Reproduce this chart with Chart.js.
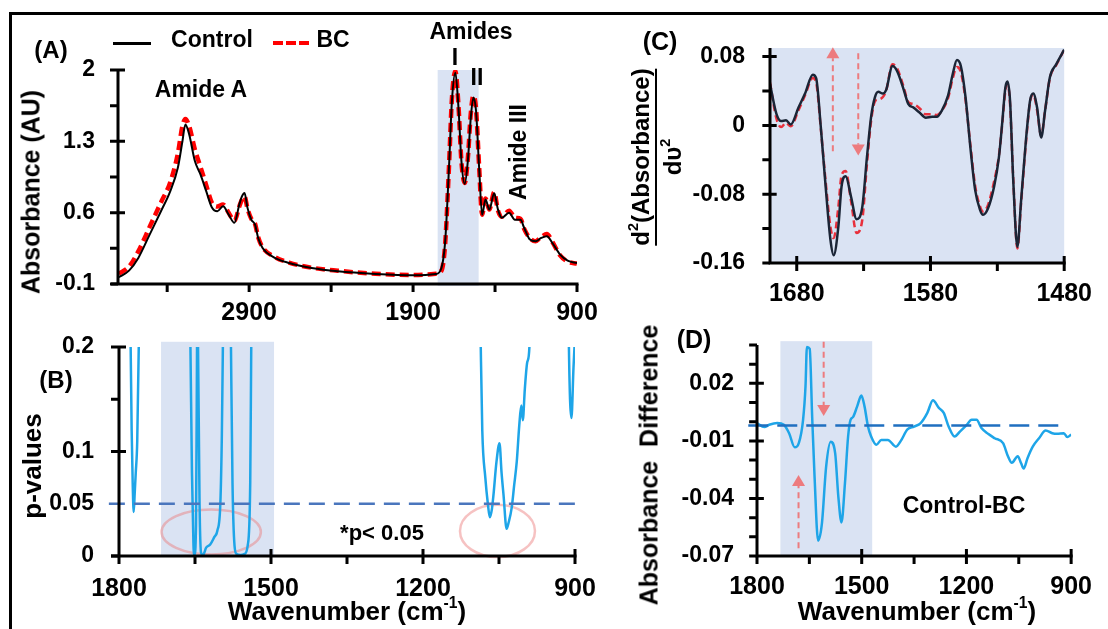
<!DOCTYPE html>
<html><head><meta charset="utf-8">
<script src="https://cdn.jsdelivr.net/npm/chart.js@4.4.0/dist/chart.umd.min.js"></script>
<style>
html,body{margin:0;padding:0;background:#fff;}
#wrap{position:relative;width:1108px;height:629px;overflow:hidden;background:#fff;font-family:"Liberation Sans",Arial,sans-serif;font-weight:bold;color:#000;}
canvas{position:absolute;left:0;top:0;}
.t{position:absolute;white-space:nowrap;transform:translate(-50%,-50%);line-height:1;}
.r{transform:translate(-50%,-50%) rotate(-90deg);}
#frame{position:absolute;left:9px;top:12px;width:1200px;height:700px;border-top:3px solid #000;border-left:3px solid #000;}
sup{font-size:0.6em;vertical-align:0.75em;line-height:0;}
.sw{position:absolute;}
</style></head>
<body><div id="wrap">
<div id="frame"></div>
<canvas id="cA" width="1108" height="629"></canvas>
<canvas id="cB" width="1108" height="629"></canvas>
<canvas id="cC" width="1108" height="629"></canvas>
<canvas id="cD" width="1108" height="629"></canvas>
<div class="sw" style="left:113px;top:41.5px;width:38px;height:3px;background:#000;"></div>
<div class="sw" style="left:273px;top:41px;width:38px;height:4px;background:repeating-linear-gradient(to right,#ff0000 0 10px,rgba(255,0,0,0) 10px 13px);"></div>
<div id="labels"></div>
</div>
<script>
// ---------- Panel A: absorbance spectra ----------
const aWavenumber = [3695,3633,3576,3507,3438,3381,3335,3307,3289,3266,3231,3197,3162,3128,3094,3059,3025,2990,2960,2944,2928,2910,2887,2864,2845,2818,2749,2657,2519,2359,2129,1899,1761,1727,1704,1681,1663,1642,1623,1605,1585,1566,1548,1532,1516,1497,1479,1458,1435,1405,1382,1359,1314,1279,1245,1222,1187,1153,1118,1084,1049,1003,957,900];
const aControl = [-0.034,0.031,0.156,0.385,0.614,0.811,1.04,1.30,1.466,1.37,1.106,0.975,0.811,0.654,0.614,0.663,0.581,0.50,0.68,0.76,0.794,0.647,0.532,0.483,0.352,0.254,0.162,0.106,0.057,0.024,-0.002,-0.015,-0.002,0.057,0.32,1.04,1.695,1.974,1.63,1.106,0.883,1.106,1.53,1.73,1.60,1.04,0.58,0.73,0.63,0.79,0.63,0.55,0.60,0.53,0.53,0.45,0.336,0.32,0.352,0.368,0.30,0.188,0.129,0.106];
const aBC = [0.0,0.07,0.22,0.46,0.70,0.90,1.18,1.45,1.52,1.45,1.22,1.05,0.87,0.70,0.66,0.68,0.60,0.52,0.66,0.73,0.76,0.64,0.54,0.49,0.36,0.26,0.17,0.11,0.06,0.03,0.0,-0.012,0.0,0.03,0.30,1.05,1.72,1.99,1.65,1.10,0.89,1.13,1.57,1.75,1.62,1.05,0.58,0.74,0.63,0.80,0.62,0.56,0.62,0.55,0.54,0.44,0.35,0.32,0.36,0.39,0.31,0.18,0.12,0.10];
const aXLabels = [2900,1900,900];
const aXMarks = [3400,2900,2400,1900,1400,900];
const aXCross = [];
const aYLabels = [2,1.3,0.6,-0.1];
const aYMarks = [2,1.65,1.3,0.95,0.6,0.25,-0.1];
const aYCross = [2,1.3,0.6];

// ---------- Panel B: p-values ----------
const bWavenumber = [1779,1777,1775,1773,1771,1769,1767,1764,1761,1759,1700,1662,1659,1656,1653,1651,1648,1646,1645,1644,1641,1638,1634,1628,1620,1612,1606,1600,1597,1595,1593,1588,1581,1579,1576,1572,1568,1560,1552,1546,1541,1539,1537,1300,1089,1086,1083,1077,1072,1068,1064,1061,1055,1049,1045,1041,1035,1031,1025,1020,1015,1010,1006,1003,999,994,990,988,950,914,912,907,903,900];
const bPValue = [0.3,0.2,0.12,0.07,0.042,0.06,0.079,0.11,0.2,0.3,null,0.3,0.2,0.08,0.01,0.001,0.03,0.2,0.3,0.2,0.05,0.003,0.001,0.008,0.011,0.018,0.024,0.05,0.116,0.2,0.3,null,0.3,0.2,0.07,0.01,0.002,0.001,0.002,0.01,0.07,0.2,0.3,null,0.3,0.2,0.12,0.075,0.05,0.037,0.045,0.058,0.09,0.108,0.08,0.058,0.026,0.032,0.046,0.068,0.09,0.125,0.144,0.13,0.16,0.186,0.2,0.3,null,0.3,0.2,0.132,0.18,0.21];
const bThreshold = 0.05;
const bXLabels = [1800,1500,1200,900];
const bXMarks = [1800,1650,1500,1350,1200,1050,900];
const bXCross = [1500,1200,900];
const bYLabels = [0.2,0.1,0.05,0];
const bYMarks = [0.2,0.15,0.1,0];
const bYCross = [0.2,0.1];

// ---------- Panel C: second derivative ----------
const cWavenumber = [1700,1695.2,1691.7,1688,1684.5,1678.6,1673.8,1668,1665.5,1662,1658.4,1654.8,1652.4,1648.9,1646.5,1643.4,1639.4,1635.3,1631,1627.5,1624.4,1621.5,1619,1615.6,1613.2,1608.4,1604.9,1600.1,1596.6,1593,1588.2,1583.5,1578.7,1575.2,1571.6,1566.8,1563.3,1560.2,1557.3,1553.8,1550.2,1546.6,1543,1540.7,1537.1,1532.4,1528.8,1526.4,1524,1522.4,1520.5,1518.1,1515,1512.2,1508.6,1505.5,1503.1,1500.3,1497.2,1494.3,1490.7,1486,1480];
const cControl = [0.048,0.0135,0.005,0.006,0.001,0.021,0.037,0.059,0.055,-0.002,-0.071,-0.133,-0.151,-0.118,-0.071,-0.059,-0.083,-0.109,-0.095,-0.037,0.010,0.033,0.039,0.037,0.041,0.069,0.063,0.042,0.025,0.021,0.015,0.009,0.010,0.010,0.017,0.035,0.060,0.076,0.069,0.033,-0.025,-0.075,-0.098,-0.104,-0.097,-0.071,-0.037,0.002,0.044,0.051,0.029,-0.064,-0.141,-0.087,-0.017,0.029,0.037,0.021,-0.014,0.017,0.056,0.071,0.088];
const cBC = [0.050,0.008,-0.002,0.003,-0.001,0.018,0.035,0.055,0.050,-0.004,-0.065,-0.118,-0.131,-0.095,-0.058,-0.053,-0.088,-0.125,-0.110,-0.045,0.005,0.028,0.030,0.033,0.040,0.071,0.066,0.045,0.027,0.025,0.020,0.013,0.013,0.012,0.017,0.032,0.055,0.068,0.062,0.030,-0.022,-0.070,-0.094,-0.100,-0.093,-0.065,-0.035,0.000,0.040,0.048,0.025,-0.062,-0.143,-0.090,-0.020,0.027,0.036,0.018,-0.012,0.017,0.055,0.070,0.088];
const cXLabels = [1680,1580,1480];
const cXMarks = [1680,1630,1580,1530,1480];
const cXCross = [1680,1580,1480];
const cYLabels = [0.08,0,-0.08,-0.16];
const cYMarks = [0.08,0.04,0,-0.04,-0.08,-0.12,-0.16];
const cYCross = [0.08,0,-0.08];

// ---------- Panel D: absorbance difference ----------
const dWavenumber = [1800,1779,1765,1742,1723,1708,1692,1680,1668,1661,1657,1649,1642,1635,1625,1614,1602,1589,1576,1567,1558,1548,1539,1532,1525,1513,1501,1492,1482,1473,1458,1444,1425,1402,1388,1369,1350,1331,1312,1296,1279,1265,1251,1234,1218,1199,1185,1171,1157,1138,1119,1095,1081,1070,1053,1043,1036,1025,1010,992,973,954,940,921,911,900];
const dDifference = [-0.0007,-0.0028,-0.0016,-0.0007,-0.0016,-0.006,-0.0133,-0.011,0.001,0.0186,0.039,0.038,0.0028,-0.029,-0.062,-0.053,-0.0235,-0.0104,-0.0165,-0.039,-0.0525,-0.032,-0.0077,0.001,0.0024,0.008,0.0137,0.008,-0.0025,-0.0077,-0.012,-0.0095,-0.0095,-0.013,-0.010,-0.004,-0.0025,-0.0007,0.0046,0.0112,0.0072,0.0046,-0.0025,-0.0077,-0.005,-0.0016,0.001,0.001,-0.0033,-0.0063,-0.0086,-0.0112,-0.018,-0.0214,-0.018,-0.0218,-0.0244,-0.019,-0.013,-0.0086,-0.0046,-0.006,-0.0063,-0.006,-0.008,-0.0067];
const dBaseline = -0.002;
const dXLabels = [1800,1500,1200,900];
const dXMarks = [1800,1650,1500,1350,1200,1050,900];
const dXCross = [1500,1200,900];
const dYLabels = [0.02,-0.01,-0.04,-0.07];
const dYMarks = [0.04,0.03,0.02,0.01,0,-0.01,-0.02,-0.03,-0.04,-0.05,-0.06,-0.07];
const dYCross = [0.02,-0.01,-0.04];

// ---------- helpers ----------
const FONT = '"Liberation Sans", Arial, sans-serif';
const SHADE = '#dae3f3';
const W = 1108, H = 629;
const pts = (xs, ys) => xs.map((x, i) => ({x: x, y: ys[i]}));
const near = (list, v) => list.some(l => Math.abs(l - v) < 1e-9);

function makeDeco(o) {
  return {
    id: 'deco',
    beforeDatasetsDraw(chart) {
      const ctx = chart.ctx, xs = chart.scales.x, ys = chart.scales.y;
      ctx.save();
      (o.shades || []).forEach(s => {
        const x1 = xs.getPixelForValue(s.x0), x2 = xs.getPixelForValue(s.x1);
        const y1 = ys.getPixelForValue(s.y0), y2 = ys.getPixelForValue(s.y1);
        ctx.fillStyle = SHADE;
        ctx.fillRect(Math.min(x1, x2), Math.min(y1, y2), Math.abs(x2 - x1), Math.abs(y2 - y1));
      });
      (o.ellipses || []).forEach(e => {
        const cx = xs.getPixelForValue(e.x), cy = ys.getPixelForValue(e.y);
        const rx = Math.abs(xs.getPixelForValue(e.x - e.rx) - cx), ry = Math.abs(ys.getPixelForValue(e.y + e.ry) - cy);
        ctx.beginPath();
        ctx.ellipse(cx, cy, rx, ry, 0, 0, Math.PI * 2);
        ctx.strokeStyle = 'rgba(236,120,120,0.45)';
        ctx.lineWidth = 2.5;
        ctx.stroke();
      });
      ctx.restore();
    },
    afterDraw(chart) {
      const ctx = chart.ctx, xs = chart.scales.x, ys = chart.scales.y;
      ctx.save();
      (o.arrows || []).forEach(r => {
        const x = xs.getPixelForValue(r.x), y0 = ys.getPixelForValue(r.y0), y1 = ys.getPixelForValue(r.y1);
        const dir = y1 < y0 ? -1 : 1, hl = 11, hw = 6.5;
        ctx.strokeStyle = 'rgba(240,104,104,0.85)';
        ctx.fillStyle = 'rgba(240,104,104,0.85)';
        ctx.lineWidth = 2;
        ctx.setLineDash([6, 4]);
        ctx.beginPath(); ctx.moveTo(x, y0); ctx.lineTo(x, y1 - dir * hl); ctx.stroke();
        ctx.setLineDash([]);
        ctx.beginPath(); ctx.moveTo(x, y1); ctx.lineTo(x - hw, y1 - dir * hl); ctx.lineTo(x + hw, y1 - dir * hl); ctx.closePath(); ctx.fill();
      });
      ctx.restore();
    }
  };
}

function axis(cfg, isX, area) {
  return {
    type: 'linear', reverse: isX, min: cfg.min, max: cfg.max,
    border: {display: false}, grid: {display: false, drawTicks: false},
    afterFit: s => { if (isX) s.height = 60; else s.width = area.l; },
    afterBuildTicks: s => { s.ticks = cfg.labels.map(v => ({value: v})); },
    ticks: {autoSkip: false, maxRotation: 0, minRotation: 0, padding: cfg.pad, color: '#000',
      font: {family: FONT, weight: 'bold', size: cfg.size, lineHeight: 1.2},
      callback: v => { const hit = cfg.labels.find(l => Math.abs(l - v) < 1e-9); return hit === undefined ? '' : String(hit); }}
  };
}

// axis lines and tick marks as line datasets on the chart's own scales
function axisDatasets(p, s) {
  const xpu = (p.x.max - p.x.min) / (p.area.r - p.area.l);
  const ypu = (p.y.max - p.y.min) / (p.area.b - p.area.t);
  const xL = p.x.max, xR = p.x.min, y0 = p.y.min, y1 = p.y.max;
  const out = 8, inn = 7, half = 1.5;
  const lines = [
    {x: xL + (s.xExt || 0) * xpu, y: y0}, {x: xR - half * xpu, y: y0}, {x: xR, y: null},
    {x: xL, y: y0 - half * ypu}, {x: xL, y: y1}
  ];
  const ticks = [];
  s.xMarks.forEach(v => {
    const c = near(s.xCross, v) ? inn : 0;
    ticks.push({x: v, y: y0 + c * ypu}, {x: v, y: y0 - out * ypu}, {x: v, y: null});
  });
  s.yMarks.forEach(v => {
    const c = near(s.yCross, v) ? inn : 0;
    ticks.push({x: xL + out * xpu, y: v}, {x: xL - c * xpu, y: v}, {x: xL, y: null});
  });
  const common = {borderColor: '#000', borderWidth: 3, clip: false, tension: 0,
    cubicInterpolationMode: 'default', spanGaps: false, pointRadius: 0, order: -1};
  return [Object.assign({data: lines}, common), Object.assign({data: ticks}, common)];
}

function panel(id, p) {
  return new Chart(document.getElementById(id), {
    type: 'line',
    data: {datasets: p.datasets.concat(axisDatasets(p, p.axes))},
    options: {
      responsive: false, animation: false, devicePixelRatio: 1,
      layout: {padding: {left: 0, top: p.area.t, right: W - p.area.r, bottom: H - p.area.b - 60}},
      plugins: {legend: {display: false}, tooltip: {enabled: false}},
      elements: {point: {radius: 0}, line: {cubicInterpolationMode: 'monotone'}},
      scales: {x: axis(p.x, true, p.area), y: axis(p.y, false, p.area)}
    },
    plugins: [makeDeco(p.deco)]
  });
}

// Panel A
panel('cA', {
  area: {l: 118, r: 577, t: 70, b: 284},
  x: {min: 900, max: 3700, labels: aXLabels, pad: 14, size: 25},
  y: {min: -0.1, max: 2, labels: aYLabels, pad: 23, size: 23},
  datasets: [
    {data: pts(aWavenumber, aControl), borderColor: '#000', borderWidth: 2, order: 0},
    {data: pts(aWavenumber, aBC), borderColor: '#ff0000', borderWidth: 4.5, borderDash: [9, 5], order: 1}
  ],
  deco: {shades: [{x0: 1750, x1: 1500, y0: 2.0, y1: -0.12}]},
  axes: {xExt: 7, xMarks: aXMarks, xCross: aXCross, yMarks: aYMarks, yCross: aYCross}
});

// Panel B
panel('cB', {
  area: {l: 119, r: 575, t: 347, b: 556},
  x: {min: 900, max: 1800, labels: bXLabels, pad: 18, size: 25},
  y: {min: 0, max: 0.2, labels: bYLabels, pad: 25, size: 23},
  datasets: [
    {data: [{x: 1820, y: bThreshold}, {x: 900, y: bThreshold}], borderColor: '#4a76bd', borderWidth: 2.5, borderDash: [16, 9], clip: false, order: 0},
    {data: pts(bWavenumber, bPValue), borderColor: '#1ea5e8', borderWidth: 2.5, spanGaps: false, order: 1}
  ],
  deco: {shades: [{x0: 1717, x1: 1494, y0: 0.205, y1: 0}],
    ellipses: [{x: 1618, y: 0.023, rx: 98, ry: 0.0215}, {x: 1053, y: 0.024, rx: 74, ry: 0.025}]},
  axes: {xExt: 8, xMarks: bXMarks, xCross: bXCross, yMarks: bYMarks, yCross: bYCross}
});

// Panel C
panel('cC', {
  area: {l: 770, r: 1078, t: 48, b: 263},
  x: {min: 1480, max: 1700, labels: cXLabels, pad: 16, size: 25},
  y: {min: -0.16, max: 0.09, labels: cYLabels, pad: 25, size: 23},
  datasets: [
    {data: pts(cWavenumber, cControl), borderColor: '#1b2536', borderWidth: 2.5, order: 0},
    {data: pts(cWavenumber, cBC), borderColor: '#e8303c', borderWidth: 2.5, borderDash: [7, 4], order: 1}
  ],
  deco: {shades: [{x0: 1700, x1: 1480, y0: 0.09, y1: -0.16}],
    arrows: [{x: 1653, y0: -0.030, y1: 0.091}, {x: 1634, y0: 0.084, y1: -0.035}]},
  axes: {xExt: 0, xMarks: cXMarks, xCross: cXCross, yMarks: cYMarks, yCross: cYCross}
});

// Panel D
panel('cD', {
  area: {l: 757, r: 1077, t: 345, b: 556},
  x: {min: 900, max: 1800, labels: dXLabels, pad: 16, size: 25},
  y: {min: -0.07, max: 0.04, labels: dYLabels, pad: 23, size: 23},
  datasets: [
    {data: [{x: 1825, y: dBaseline}, {x: 920, y: dBaseline}], borderColor: '#1f6fc0', borderWidth: 2.5, borderDash: [20, 9], clip: false, order: 0},
    {data: pts(dWavenumber, dDifference), borderColor: '#1ea5e8', borderWidth: 2.5, order: 1}
  ],
  deco: {shades: [{x0: 1733, x1: 1470, y0: 0.042, y1: -0.07}],
    arrows: [{x: 1609, y0: 0.0417, y1: 0.003}, {x: 1681, y0: -0.066, y1: -0.0278}]},
  axes: {xExt: 0, xMarks: dXMarks, xCross: dXCross, yMarks: dYMarks, yCross: dYCross}
});

// ---------- text annotations ----------
const texts = [
  ['(A)', 51, 50, 24, false],
  ['Control', 212, 39, 23, false],
  ['BC', 333, 39, 23, false],
  ['Amide A', 201, 89, 23, false],
  ['Amides', 471, 31, 23, false],
  ['I', 455, 57, 23, false],
  ['II', 477, 77, 23, false],
  ['Amide III', 518, 152, 23, true],
  ['Absorbance (AU)', 31, 192, 25, true],
  ['(B)', 56, 380, 24, false],
  ['p-values', 32, 466, 26, true],
  ['*p&lt; 0.05', 382, 533, 22, false],
  ['Wavenumber (cm<sup>-1</sup>)', 347, 611, 26, false],
  ['(C)', 660, 41, 25, false],
  ['(D)', 694, 339, 25, false],
  ['Absorbance&nbsp; Difference', 649, 465, 25, true],
  ['Control-BC', 964, 505, 23, false],
  ['Wavenumber (cm<sup>-1</sup>)', 917, 611, 26, false]
];
const host = document.getElementById('labels');
texts.forEach(([s, x, y, sz, rot]) => {
  const d = document.createElement('div');
  d.className = rot ? 't r' : 't';
  d.style.left = x + 'px'; d.style.top = y + 'px'; d.style.fontSize = sz + 'px';
  d.innerHTML = s;
  host.appendChild(d);
});
const frac = document.createElement('div');
frac.className = 't r';
frac.style.cssText += 'left:657px;top:157px;font-size:24px;text-align:center;';
frac.innerHTML = '<div style="border-bottom:2px solid #000;padding-bottom:2px">d<sup>2</sup>(Absorbance)</div><div style="padding-top:4px">d\u03C5<sup>2</sup></div>';
host.appendChild(frac);
</script>
</body></html>
